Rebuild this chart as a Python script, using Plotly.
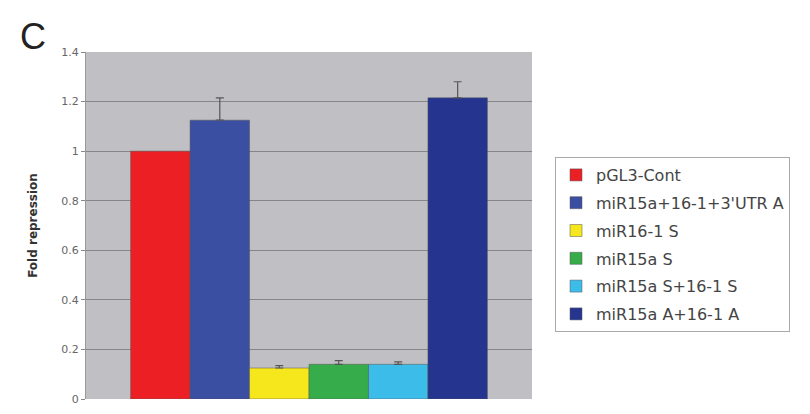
import plotly.graph_objects as go

category = ["Fold"]
series_names = ["pGL3-Cont", "miR15a+16-1+3'UTR A", "miR16-1 S", "miR15a S",
                "miR15a S+16-1 S", "miR15a A+16-1 A"]
values = [1.0, 1.125, 0.125, 0.14, 0.14, 1.215]
errors_plus = [0.0, 0.09, 0.01, 0.015, 0.01, 0.065]
colors = ["#ec2024", "#3a4ea2", "#f6e61c", "#36ad4a", "#3cbde9", "#25358f"]
y_ticks = [0, 0.2, 0.4, 0.6, 0.8, 1, 1.2, 1.4]
y_tick_text = ["0", "0.2", "0.4", "0.6", "0.8", "1", "1.2", "1.4"]

fig = go.Figure()
for i, (name, v, e, c) in enumerate(zip(series_names, values, errors_plus, colors)):
    fig.add_trace(go.Bar(
        x=category, y=[v], name=name, legendgroup=f"g{i}",
        marker=dict(color=c, line=dict(color="#555555", width=0.5)),
        error_y=dict(type="data", symmetric=False, array=[e], arrayminus=[0],
                     color="#555555", thickness=1.2, width=4, visible=e > 0),
    ))

OFF = 8  # page body margin
W, H = 810 - OFF, 414 - OFF
L, T = 86 - OFF, 52 - OFF
PW, PH = 446, 347
R, B = W - L - PW, H - T - PH

def px_x(x):
    return (x - OFF - L) / PW

def px_y(y):
    return (T + PH - (y - OFF)) / PH

fig.update_layout(
    width=W, height=H,
    margin=dict(l=L, r=R, t=T, b=B, autoexpand=False),
    paper_bgcolor="white", plot_bgcolor="#c0c0c4",
    barmode="group", bargap=0.2, bargroupgap=0,
    font=dict(family="DejaVu Sans", color="#555555"),
    showlegend=True,
    legend=dict(x=px_x(555), y=px_y(157), xanchor="left", yanchor="top",
                bgcolor="white", bordercolor="#aaaaaa", borderwidth=1,
                font=dict(size=16, color="#444444", family="DejaVu Sans"),
                itemwidth=30, tracegroupgap=4),
    xaxis=dict(showticklabels=False, showgrid=False, zeroline=False,
               showline=False),
    yaxis=dict(range=[0, 1.4], tickvals=y_ticks, ticktext=y_tick_text,
               automargin=False,
               showgrid=True, gridcolor="#868688", gridwidth=1,
               zeroline=False, showline=True, linecolor="#999999",
               ticks="outside", ticklen=4, tickcolor="#888888",
               tickfont=dict(size=11, color="#666666", family="DejaVu Sans"),
               title=dict(text="<b>Fold repression</b>", standoff=21,
                          font=dict(size=12, color="#333333", family="DejaVu Sans"))),
    annotations=[dict(text="C", x=px_x(18), y=px_y(14),
                      xref="paper", yref="paper",
                      showarrow=False, xanchor="left", yanchor="top",
                      font=dict(size=36, color="#222222", family="Liberation Sans"))],
)

fig.write_html("out.html")
